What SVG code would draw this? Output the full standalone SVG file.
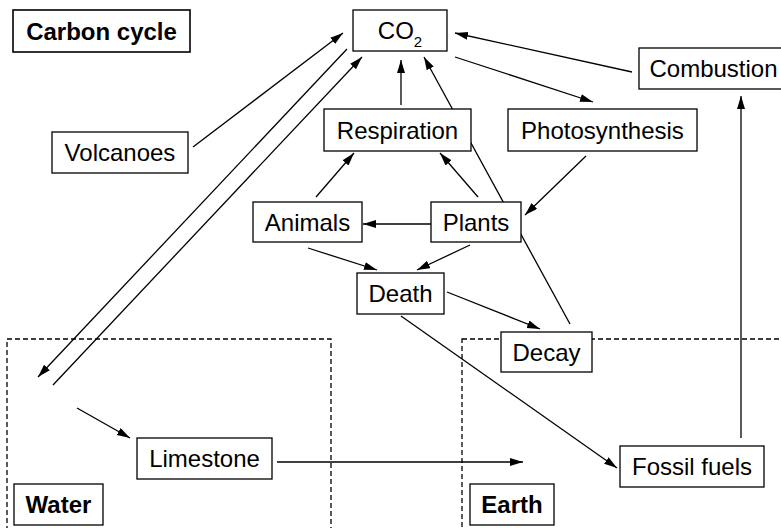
<svg xmlns="http://www.w3.org/2000/svg" width="781" height="528" viewBox="0 0 781 528">
<defs>
<style>
.box{fill:#fff;stroke:#000;stroke-width:1.3}
.t{font-family:"Liberation Sans",Arial,sans-serif;font-size:24px;text-anchor:middle;fill:#000}
.b{font-weight:bold}
.c{stroke:#000;stroke-width:1.3;fill:none;marker-end:url(#ah)}
.d{fill:none;stroke:#000;stroke-width:1.3;stroke-dasharray:5 3}
</style>
<marker id="ah" markerWidth="14" markerHeight="10" refX="13" refY="4" orient="auto" markerUnits="userSpaceOnUse">
<path d="M0,0 L13,4 L0,8 z" fill="#000"/>
</marker>
</defs>
<rect width="781" height="528" fill="#fff"/>
<g id="regions">
<rect class="d" x="7" y="339" width="324" height="200"/>
<rect class="d" x="462" y="339" width="330" height="200"/>
</g>
<g id="connectors">
<path class="c" d="M193,147 L343,33"/>
<path class="c" d="M347,49 L38,377"/>
<path class="c" d="M53,385 L362,57"/>
<path class="c" d="M401,105 L401,60"/>
<path class="c" d="M570,324 L424,57"/>
<path class="c" d="M455,57 L593,102"/>
<path class="c" d="M632,72 L455,33"/>
<path class="c" d="M741,438 L741,96"/>
<path class="c" d="M586,156 L525,215"/>
<path class="c" d="M316,197 L354,153"/>
<path class="c" d="M478,197 L440,153"/>
<path class="c" d="M431,224 L363,224"/>
<path class="c" d="M308,248 L377,270"/>
<path class="c" d="M470,245 L417,270"/>
<path class="c" d="M447,292 L540,329"/>
<path class="c" d="M401,316 L617,468"/>
<path class="c" d="M77,408 L130,438"/>
<path class="c" d="M277,462 L523,462"/>
</g>
<g id="title"><rect class="box" x="13" y="10" width="177" height="42" style="stroke-width:1.6"/><text class="t b" x="101.5" y="39.5">Carbon cycle</text></g>
<g id="volcanoes"><rect class="box" x="52" y="132" width="136" height="41"/><text class="t" x="120" y="161">Volcanoes</text></g>
<g id="co2"><rect class="box" x="353" y="10" width="94" height="41"/><text class="t" x="400" y="39">CO<tspan font-size="15" dy="8">2</tspan></text></g>
<g id="combustion"><rect class="box" x="639" y="48" width="150" height="41"/><text class="t" x="713.5" y="77">Combustion</text></g>
<g id="respiration"><rect class="box" x="324" y="109" width="147" height="42"/><text class="t" x="397.5" y="139">Respiration</text></g>
<g id="photosynthesis"><rect class="box" x="508" y="109" width="189" height="42"/><text class="t" x="602.5" y="139">Photosynthesis</text></g>
<g id="animals"><rect class="box" x="253" y="202" width="109" height="40"/><text class="t" x="307.5" y="231">Animals</text></g>
<g id="plants"><rect class="box" x="431" y="202" width="90" height="40"/><text class="t" x="476" y="231">Plants</text></g>
<g id="death"><rect class="box" x="357" y="273" width="87" height="41"/><text class="t" x="400.5" y="302">Death</text></g>
<g id="decay"><rect class="box" x="501" y="332" width="91" height="40"/><text class="t" x="546.5" y="361">Decay</text></g>
<g id="fossil"><rect class="box" x="620" y="446" width="144" height="41"/><text class="t" x="692" y="475">Fossil fuels</text></g>
<g id="limestone"><rect class="box" x="137" y="438" width="135" height="41"/><text class="t" x="204.5" y="467">Limestone</text></g>
<g id="water"><rect class="box" x="14" y="484" width="89" height="41"/><text class="t b" x="58.5" y="513">Water</text></g>
<g id="earth"><rect class="box" x="470" y="484" width="84" height="41"/><text class="t b" x="512" y="513">Earth</text></g>
</svg>
